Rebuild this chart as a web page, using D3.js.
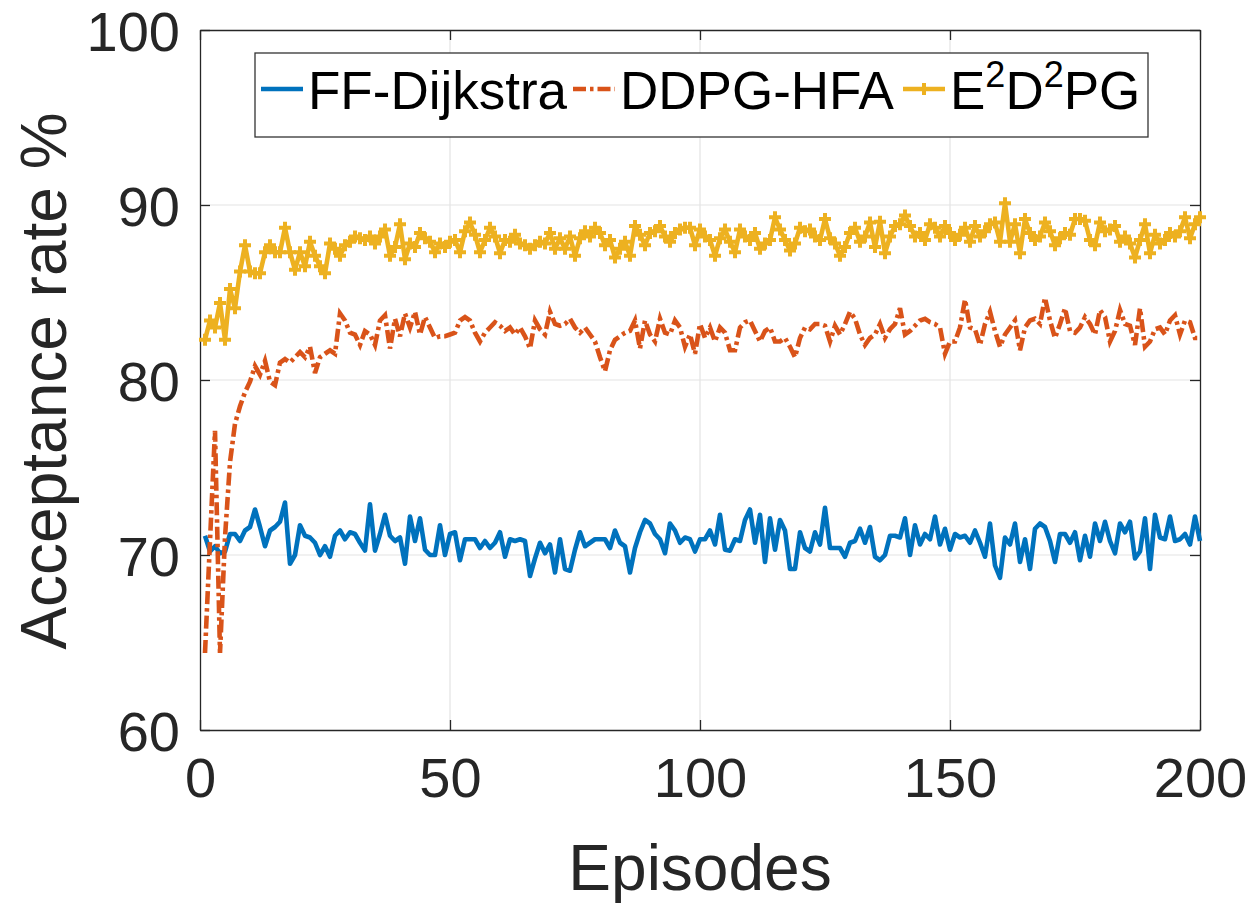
<!DOCTYPE html>
<html><head><meta charset="utf-8">
<script src="https://cdn.jsdelivr.net/npm/d3@7"></script>
<style>body{margin:0;background:#fff}svg{display:block}text{font-family:"Liberation Sans",Arial,Helvetica,sans-serif}</style>
</head><body><svg id="c" width="1254" height="904"></svg>
<script>
const seriesNames = ["FF-Dijkstra", "DDPG-HFA", "E2D2PG"];
const xTicks = [0, 50, 100, 150, 200];
const yTicks = [60, 70, 80, 90, 100];
const ffDijkstra = [
71.1,70.2,70.5,70.1,70.2,71.2,71.2,70.8,71.4,71.6,
72.6,71.6,70.5,71.4,71.6,71.9,73.0,69.5,70.0,71.7,
71.1,71.0,70.7,70.0,70.5,69.9,71.1,71.4,70.9,71.3,
71.2,70.7,70.25,72.9,70.25,71.2,72.3,71.1,70.8,71.0,
69.5,72.2,70.8,72.1,70.3,70.0,70.0,71.7,70.0,71.2,
71.3,69.7,70.9,70.9,70.9,70.4,70.8,70.4,70.7,71.3,
69.9,70.9,70.8,70.9,70.8,68.8,69.8,70.7,70.1,70.6,
69.0,70.9,69.2,69.1,70.3,71.3,70.5,70.7,70.9,70.9,
70.9,70.4,71.4,70.7,70.5,69.0,70.4,71.3,72.0,71.8,
71.2,70.9,70.1,71.8,71.4,70.7,71.0,70.9,70.2,70.9,
70.9,71.4,70.6,72.3,70.3,70.25,70.9,70.8,72.0,72.6,
70.7,72.3,69.6,72.1,70.3,72.0,71.4,69.2,69.2,71.3,
70.4,70.2,71.3,70.6,72.7,70.4,70.4,70.4,69.9,70.7,
70.8,71.5,70.7,71.6,69.9,69.7,70.0,71.1,71.1,71.0,
72.1,70.0,71.7,70.6,71.2,70.9,72.2,70.6,71.5,70.3,
71.2,71.0,71.1,70.7,71.4,70.7,69.9,71.8,69.4,68.7,
71.0,70.6,71.8,69.6,70.9,69.2,71.5,71.8,71.6,70.8,
69.6,71.2,71.2,70.7,71.3,69.7,71.1,69.9,71.8,70.8,
71.9,70.8,70.1,71.8,71.3,71.9,69.8,70.2,72.1,69.2,
72.3,71.0,70.9,72.2,70.8,70.9,71.2,70.6,72.2,70.8];
const ddpgHfa = [
64.4,70.8,77.1,64.4,71.0,75.3,77.5,78.5,79.3,79.9,
80.8,80.3,81.1,79.9,79.7,81.0,81.2,81.0,81.3,81.6,
81.3,81.9,80.4,81.3,81.5,81.7,81.5,83.8,83.4,82.7,
82.6,82.0,82.8,82.6,82.0,83.4,83.7,81.8,83.5,82.5,
83.8,83.0,83.9,82.6,83.6,83.0,82.4,82.5,82.5,82.6,
82.7,83.4,83.6,83.4,82.7,82.2,82.7,83.0,83.3,83.1,
82.8,83.0,82.6,83.0,82.5,81.8,83.4,82.9,82.6,83.9,
83.2,83.1,83.2,83.5,83.0,82.7,83.0,82.6,82.2,81.3,
80.5,81.7,82.3,82.5,82.7,82.8,83.4,81.8,83.4,82.6,
82.2,83.5,82.7,82.6,83.4,83.0,81.9,82.6,81.5,83.2,
82.4,83.0,82.2,83.0,82.7,81.7,81.7,83.0,83.3,83.4,
82.8,82.2,82.8,83.0,82.2,82.2,82.4,81.9,81.3,82.4,
83.0,82.9,83.2,83.2,83.1,82.2,83.1,82.6,83.2,83.9,
83.5,82.6,82.0,82.4,82.6,83.2,82.4,82.9,83.2,84.1,
82.6,82.8,83.1,83.4,83.5,83.3,83.2,83.0,81.5,82.2,
82.2,83.0,84.6,83.0,82.9,82.0,83.2,83.9,82.8,81.9,
82.6,83.0,83.4,81.7,83.0,83.4,83.5,83.2,84.7,83.4,
82.4,83.2,84.1,82.8,82.7,83.0,83.6,83.2,82.6,84.0,
83.6,82.2,82.8,84.0,83.2,83.1,82.0,84.1,81.9,82.2,
82.9,83.0,82.6,83.4,83.7,82.6,83.4,83.3,82.4,82.4];
const e2d2pg = [
82.3,83.4,83.0,84.4,82.3,85.2,84.1,86.2,87.7,86.2,
86.1,86.1,87.3,87.7,87.3,87.3,88.7,87.3,86.3,87.3,
86.5,87.9,87.1,86.5,86.1,87.8,87.5,87.1,87.7,87.9,
88.2,88.1,88.0,88.2,87.8,88.2,88.6,87.1,87.6,88.9,
86.9,87.8,87.6,88.4,88.1,87.9,87.3,87.8,87.6,87.9,
88.0,87.3,88.5,89.0,88.3,87.3,88.0,88.7,88.2,87.25,
88.0,87.9,88.3,87.8,87.7,87.5,87.7,87.9,87.8,88.4,
87.5,88.1,87.5,88.2,87.1,88.1,88.5,88.2,88.7,88.4,
87.7,88.0,87.0,87.5,87.9,87.1,88.8,88.3,87.7,88.4,
88.5,88.8,88.2,87.9,88.4,88.6,88.7,88.7,87.7,88.6,
88.2,88.0,87.1,88.1,88.6,87.9,87.3,88.6,88.2,88.0,
88.4,87.5,87.8,88.0,89.3,88.6,88.0,87.4,87.8,88.7,
88.5,88.6,88.2,88.0,89.2,88.1,87.8,87.1,87.6,88.4,
88.7,87.9,88.2,89.0,87.6,89.05,87.25,88.2,88.8,88.9,
89.4,88.8,88.2,88.4,88.0,88.9,88.7,88.2,88.8,88.4,
88.0,88.3,88.7,87.9,88.8,88.2,88.5,88.9,89.0,87.9,
90.1,87.9,88.9,87.25,89.2,88.4,88.0,88.2,89.0,88.5,
87.7,88.1,88.4,88.3,89.2,89.2,89.1,88.0,87.7,89.0,
88.5,88.6,88.8,87.9,88.2,87.8,87.0,88.0,88.9,87.25,
88.3,87.8,88.0,88.4,88.2,88.5,89.3,88.1,88.9,89.3];

const svg = d3.select("#c");
const L = 200, R = 1200, T = 30, B = 730;
const x = d3.scaleLinear().domain([0, 200]).range([L, R]);
const y = d3.scaleLinear().domain([60, 100]).range([B, T]);
const axisCol = "#262626";

// grid
const grid = svg.append("g").attr("stroke", "#e3e3e3").attr("stroke-width", 1.2);
xTicks.slice(1, -1).forEach(t => grid.append("line").attr("x1", x(t)).attr("x2", x(t)).attr("y1", T).attr("y2", B));
yTicks.slice(1, -1).forEach(t => grid.append("line").attr("y1", y(t)).attr("y2", y(t)).attr("x1", L).attr("x2", R));

// axes with inward ticks
const tl = 10;
const xa = svg.append("g").attr("transform", `translate(0,${B})`)
  .call(d3.axisBottom(x).tickValues(xTicks).tickSizeInner(-tl).tickSizeOuter(0).tickPadding(27));
const ya = svg.append("g").attr("transform", `translate(${L},0)`)
  .call(d3.axisLeft(y).tickValues(yTicks).tickSizeInner(-tl).tickSizeOuter(0).tickPadding(20));
const xt = svg.append("g").attr("transform", `translate(0,${T})`)
  .call(d3.axisTop(x).tickValues(xTicks).tickSizeInner(-tl).tickSizeOuter(0).tickFormat(""));
const yr = svg.append("g").attr("transform", `translate(${R},0)`)
  .call(d3.axisRight(y).tickValues(yTicks).tickSizeInner(-tl).tickSizeOuter(0).tickFormat(""));
[xa, ya, xt, yr].forEach(g => {
  g.select(".domain").attr("stroke", axisCol).attr("stroke-width", 1.3);
  g.selectAll(".tick line").attr("stroke", axisCol).attr("stroke-width", 1.3);
  g.selectAll("text").attr("fill", axisCol).attr("font-size", 56).style("font-family", '"Liberation Sans",Arial,sans-serif');
});
xa.selectAll(".tick text").attr("dy", "0.71em");
ya.selectAll(".tick text").attr("dy", "0.36em");

// lines
const lw = 4.6;
const line = d3.line().x((d, i) => x(i + 1)).y(d => y(d));
svg.append("path").datum(ffDijkstra).attr("d", line).attr("fill", "none")
  .attr("stroke", "#0072BD").attr("stroke-width", lw).attr("stroke-linejoin", "round");
svg.append("path").datum(ddpgHfa).attr("d", line).attr("fill", "none")
  .attr("stroke", "#D95319").attr("stroke-width", lw).attr("stroke-dasharray", "13,4,3.5,4");
svg.append("path").datum(e2d2pg).attr("d", line).attr("fill", "none")
  .attr("stroke", "#EDB120").attr("stroke-width", lw).attr("stroke-linejoin", "round");
const ms = 6;
svg.append("g").selectAll("path").data(e2d2pg).join("path")
  .attr("d", (d, i) => `M${x(i + 1) - ms},${y(d)}H${x(i + 1) + ms}M${x(i + 1)},${y(d) - ms}V${y(d) + ms}`)
  .attr("stroke", "#EDB120").attr("stroke-width", 4).attr("fill", "none");

// axis labels
svg.append("text").attr("x", 700).attr("y", 890).attr("text-anchor", "middle")
  .attr("font-size", 64).attr("fill", axisCol).text("Episodes");
svg.append("text").attr("transform", "translate(66,381) rotate(-90)").attr("text-anchor", "middle")
  .attr("font-size", 64).attr("fill", axisCol).text("Acceptance rate %");

// legend
const lg = svg.append("g");
lg.append("rect").attr("x", 255).attr("y", 53).attr("width", 893).attr("height", 84)
  .attr("fill", "#fff").attr("stroke", "#333").attr("stroke-width", 1.3);
const ly = 89, lb = 109;
const entries = [
  {sx: 261, tx: 308, col: "#0072BD", dash: null, mk: false},
  {sx: 573, tx: 620, col: "#D95319", dash: "13,4,3.5,4", mk: false},
  {sx: 903, tx: 950, col: "#EDB120", dash: null, mk: true}
];
entries.forEach((e, i) => {
  const ln = lg.append("line").attr("x1", e.sx).attr("x2", e.sx + 42).attr("y1", ly).attr("y2", ly)
    .attr("stroke", e.col).attr("stroke-width", lw);
  if (e.dash) ln.attr("stroke-dasharray", e.dash);
  if (e.mk) lg.append("path").attr("d", `M${e.sx + 21 - ms},${ly}H${e.sx + 21 + ms}M${e.sx + 21},${ly - ms}V${ly + ms}`)
    .attr("stroke", e.col).attr("stroke-width", 4);
  const t = lg.append("text").attr("x", e.tx).attr("y", lb).attr("font-size", 53).attr("fill", "#000");
  if (i < 2) t.text(seriesNames[i]);
  else {
    t.append("tspan").text("E");
    t.append("tspan").attr("font-size", 36).attr("dy", -22).text("2");
    t.append("tspan").attr("dy", 22).text("D");
    t.append("tspan").attr("font-size", 36).attr("dy", -22).text("2");
    t.append("tspan").attr("dy", 22).text("PG");
  }
});
</script></body></html>
